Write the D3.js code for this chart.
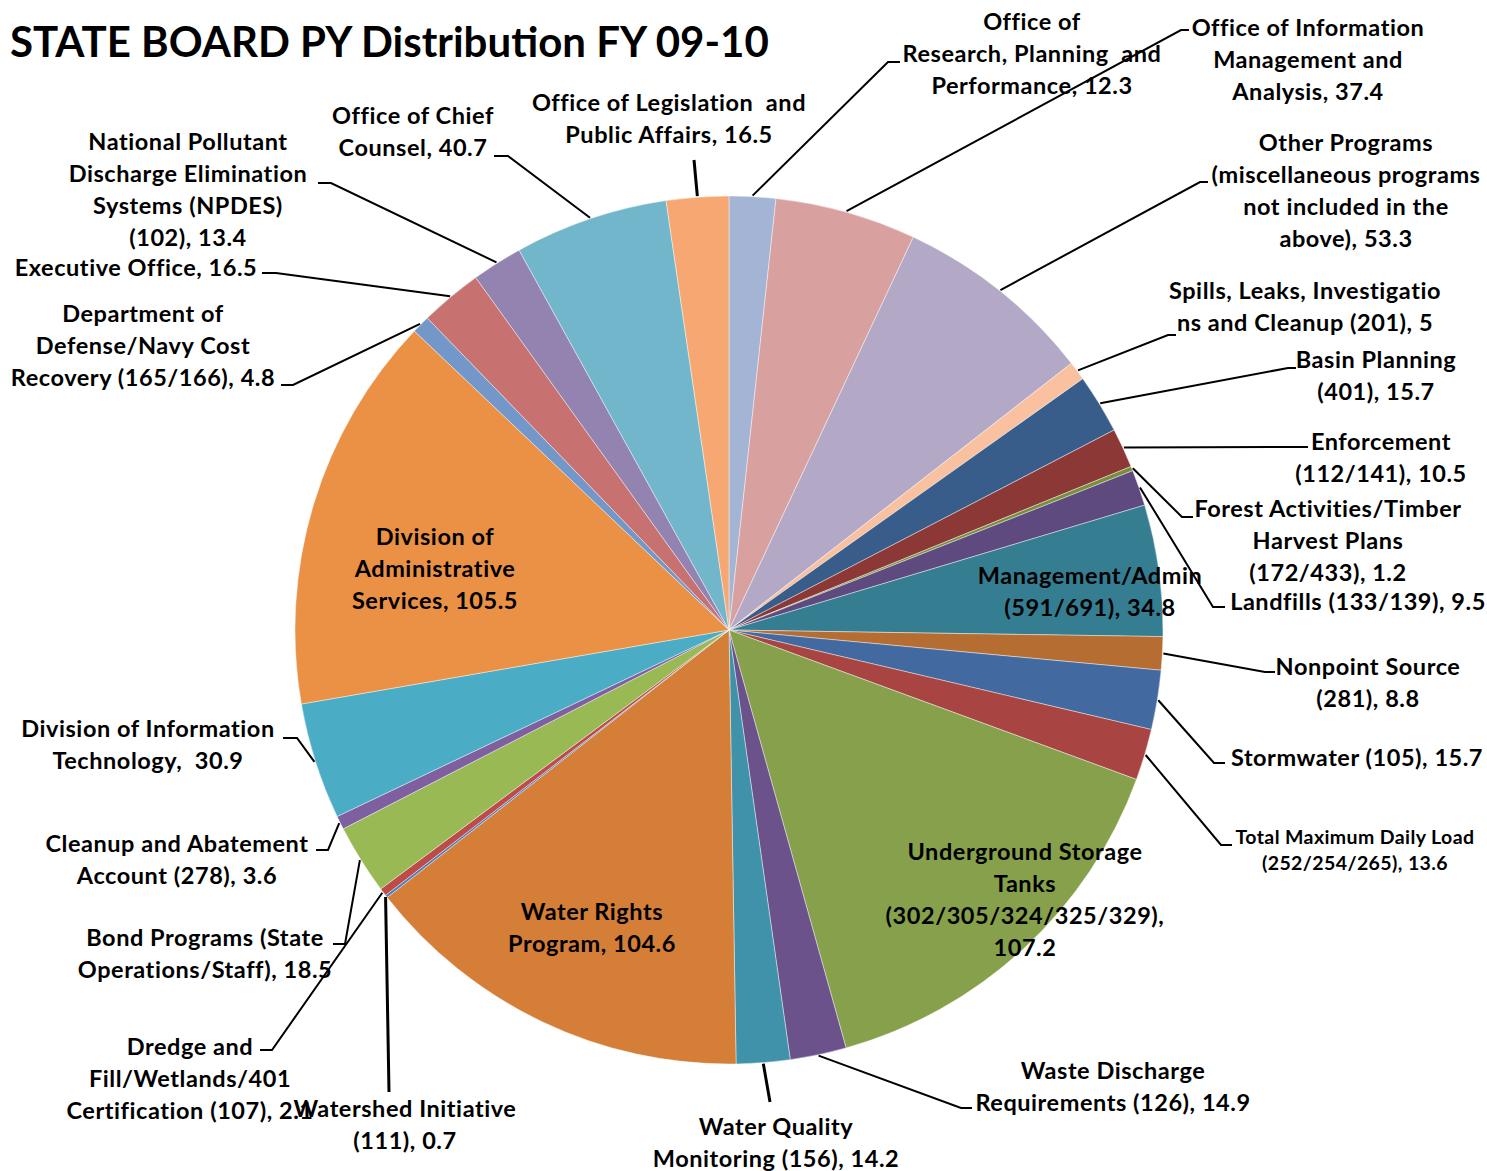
<!DOCTYPE html>
<html>
<head>
<meta charset="utf-8">
<script src="https://cdn.jsdelivr.net/npm/d3@7"></script>
<style>
  body { margin: 0; background: #fff; }
  text { font-family: Lato, "Open Sans", sans-serif; font-weight: bold; fill: #000; }
</style>
</head>
<body>
<div id="chart"></div>
<script>
// Slices, clockwise from 12 o'clock
const programs = [
  "Office of Research, Planning and Performance",
  "Office of Information Management and Analysis",
  "Other Programs",
  "Spills, Leaks, Investigations and Cleanup (201)",
  "Basin Planning (401)",
  "Enforcement (112/141)",
  "Forest Activities/Timber Harvest Plans (172/433)",
  "Landfills (133/139)",
  "Management/Admin (591/691)",
  "Nonpoint Source (281)",
  "Stormwater (105)",
  "Total Maximum Daily Load (252/254/265)",
  "Underground Storage Tanks (302/305/324/325/329)",
  "Waste Discharge Requirements (126)",
  "Water Quality Monitoring (156)",
  "Water Rights Program",
  "Watershed Initiative (111)",
  "Dredge and Fill/Wetlands/401 Certification (107)",
  "Bond Programs (State Operations/Staff)",
  "Cleanup and Abatement Account (278)",
  "Division of Information Technology",
  "Division of Administrative Services",
  "Department of Defense/Navy Cost Recovery (165/166)",
  "Executive Office",
  "National Pollutant Discharge Elimination Systems (NPDES) (102)",
  "Office of Chief Counsel",
  "Office of Legislation and Public Affairs"
];

const py = [12.3, 37.4, 53.3, 5, 15.7, 10.5, 1.2, 9.5, 34.8, 8.8, 15.7, 13.6, 107.2,
            14.9, 14.2, 104.6, 0.7, 2.1, 18.5, 3.6, 30.9, 105.5, 4.8, 16.5, 13.4, 40.7, 16.5];

const colors = ["#A3B4D5", "#D8A1A0", "#B3A9C7", "#F9C19F", "#385D8A", "#8C3836", "#778F3B",
                "#5E4A7E", "#357D91", "#B56D32", "#426AA1", "#A84441", "#87A04C", "#6B528A",
                "#3F92A9", "#D47E38", "#4A7EBB", "#BE4B48", "#98B954", "#7E60A1", "#4BACC6",
                "#EB9145", "#7397C8", "#C87171", "#9383B1", "#72B6CB", "#F7A872"];

// label lines as Excel wrapped them; the value is appended to the last line
const labelLines = [
  ["Office of", "Research, Planning  and", "Performance,"],
  ["Office of Information", "Management and", "Analysis,"],
  ["Other Programs", "(miscellaneous programs", "not included in the", "above),"],
  ["Spills, Leaks, Investigatio", "ns and Cleanup (201),"],
  ["Basin Planning", "(401),"],
  ["Enforcement", "(112/141),"],
  ["Forest Activities/Timber", "Harvest Plans", "(172/433),"],
  ["Landfills (133/139),"],
  ["Management/Admin", "(591/691),"],
  ["Nonpoint Source", "(281),"],
  ["Stormwater (105),"],
  ["Total Maximum Daily Load", "(252/254/265),"],
  ["Underground Storage", "Tanks", "(302/305/324/325/329),", ""],
  ["Waste Discharge", "Requirements (126),"],
  ["Water Quality", "Monitoring (156),"],
  ["Water Rights", "Program,"],
  ["Watershed Initiative", "(111),"],
  ["Dredge and", "Fill/Wetlands/401", "Certification (107),"],
  ["Bond Programs (State", "Operations/Staff),"],
  ["Cleanup and Abatement", "Account (278),"],
  ["Division of Information", "Technology, "],
  ["Division of", "Administrative", "Services,"],
  ["Department of", "Defense/Navy Cost", "Recovery (165/166),"],
  ["Executive Office,"],
  ["National Pollutant", "Discharge Elimination", "Systems (NPDES)", "(102),"],
  ["Office of Chief", "Counsel,"],
  ["Office of Legislation  and", "Public Affairs,"]
];

// label placement: centre x, first line y, leader elbow (ex, ey) and end x
const labelLayout = [
  {x: 1032, y: 22, ex: 888, ey: 62, hx: 900},
  {x: 1308, y: 28, ex: 1181, ey: 30, hx: 1189},
  {x: 1346, y: 143, ex: 1200, ey: 182, hx: 1208},
  {x: 1305, y: 291, ex: 1168, ey: 335, hx: 1176},
  {x: 1376, y: 360, ex: 1288, ey: 368, hx: 1296},
  {x: 1381, y: 442, ex: 1300, ey: 447, hx: 1308},
  {x: 1328, y: 509, ex: 1182, ey: 517, hx: 1193},
  {x: 1358, y: 602, ex: 1213, ey: 607, hx: 1225},
  {x: 1090, y: 576, inside: true},
  {x: 1368, y: 667, ex: 1265, ey: 672, hx: 1275},
  {x: 1357, y: 758, ex: 1214, ey: 763, hx: 1225},
  {x: 1355, y: 837, ex: 1221, ey: 845, hx: 1232, small: true},
  {x: 1025, y: 852, inside: true},
  {x: 1113, y: 1071, ex: 961, ey: 1108, hx: 972},
  {x: 776, y: 1127, ex: 770, ey: 1102, hx: 770},
  {x: 592, y: 912, inside: true},
  {x: 405, y: 1109, ex: 389, ey: 1092, hx: 389},
  {x: 190, y: 1047, ex: 272, ey: 1050, hx: 260},
  {x: 205, y: 938, ex: 345, ey: 944, hx: 333},
  {x: 177, y: 844, ex: 328, ey: 850, hx: 316},
  {x: 148, y: 729, ex: 297, ey: 738, hx: 283},
  {x: 435, y: 537, inside: true},
  {x: 143, y: 314, ex: 293, ey: 385, hx: 281},
  {x: 136, y: 268, ex: 276, ey: 273, hx: 262},
  {x: 188, y: 142, ex: 331, ey: 183, hx: 318},
  {x: 413, y: 116, ex: 508, ey: 156, hx: 494},
  {x: 669, y: 103, ex: 694, ey: 160, hx: 694}
];

const W = 1487, H = 1171;
const cx = 729, cy = 630, radius = 434;

const svg = d3.select("#chart").append("svg")
    .attr("width", W)
    .attr("height", H);

svg.append("text")
    .attr("x", 10)
    .attr("y", 57)
    .style("font-size", "42px")
    .text("STATE BOARD PY Distribution FY 09-10");

const pie = d3.pie().sort(null).value(d => d).startAngle(0).endAngle(2 * Math.PI);
const arcs = pie(py);
const arc = d3.arc().innerRadius(0).outerRadius(radius);

const g = svg.append("g").attr("transform", `translate(${cx},${cy})`);

g.selectAll("path")
    .data(arcs)
  .enter().append("path")
    .attr("d", arc)
    .attr("fill", (d, i) => colors[i])
    .attr("stroke", "#fff")
    .attr("stroke-width", 0.6)
    .attr("stroke-opacity", 0.7);

// leader lines start on the rim at each slice's mid angle
const rim = d => {
  const a = (d.startAngle + d.endAngle) / 2;
  return [cx + (radius + 1) * Math.sin(a), cy - (radius + 1) * Math.cos(a)];
};

arcs.forEach((d, i) => {
  const L = labelLayout[i];
  if (L.inside) return;
  const p = rim(d);
  svg.append("polyline")
      .attr("points", [p, [L.ex, L.ey], [L.hx, L.ey]].map(q => q.join(",")).join(" "))
      .attr("fill", "none")
      .attr("stroke", "#000")
      .attr("stroke-width", i === 14 || i === 16 || i === 26 ? 3 : 2);
});

// labels
arcs.forEach((d, i) => {
  const L = labelLayout[i];
  const lines = labelLines[i].slice();
  const last = lines.length - 1;
  lines[last] = lines[last] === "" ? String(py[i]) : lines[last] + " " + py[i];
  const fs = L.small ? 19.5 : 23.5;
  const lh = L.small ? 26 : 32;
  const t = svg.append("text")
      .attr("text-anchor", "middle")
      .style("font-size", fs + "px")
      .style("letter-spacing", L.small ? "0.4px" : "0.55px");
  lines.forEach((ln, k) => {
    t.append("tspan")
        .attr("x", L.x)
        .attr("y", L.y + k * lh + fs * 0.36)
        .attr("xml:space", "preserve")
        .text(ln);
  });
});
</script>
</body>
</html>
